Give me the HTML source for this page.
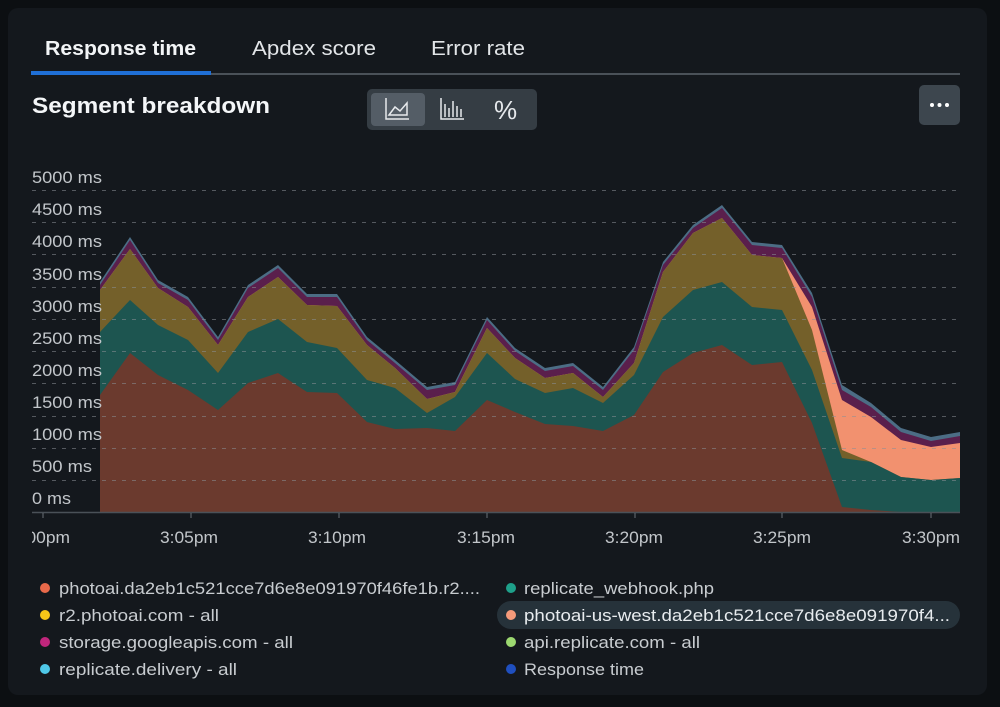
<!DOCTYPE html>
<html><head><meta charset="utf-8"><style>
html,body{margin:0;padding:0;background:#0c0f12;width:1000px;height:707px;overflow:hidden}
svg{display:block}
text{font-family:"Liberation Sans",sans-serif}
</style></head><body>
<svg width="1000" height="707" viewBox="0 0 1000 707" xmlns="http://www.w3.org/2000/svg">
<rect x="0" y="0" width="1000" height="707" fill="#0c0f12"/>
<rect x="8" y="8" width="979" height="687" rx="10" fill="#14181d"/>
<!-- tabs -->
<text x="45" y="55" font-size="20" font-weight="bold" fill="#f2f4f6" textLength="151" lengthAdjust="spacingAndGlyphs">Response time</text>
<text x="252" y="55" font-size="20" fill="#e2e5e8" textLength="124" lengthAdjust="spacingAndGlyphs">Apdex score</text>
<text x="431" y="55" font-size="20" fill="#e2e5e8" textLength="94" lengthAdjust="spacingAndGlyphs">Error rate</text>
<rect x="31" y="73" width="929" height="2" fill="#4a5158"/>
<rect x="31" y="71" width="180" height="4" fill="#1f6fd6"/>
<text x="32" y="113" font-size="22" font-weight="bold" fill="#f4f6f8" textLength="238" lengthAdjust="spacingAndGlyphs">Segment breakdown</text>
<!-- toggle group -->
<rect x="367" y="89" width="170" height="41" rx="5" fill="#353d44"/>
<rect x="371" y="93" width="54" height="33" rx="4" fill="#545d66"/>
<g stroke="#e6e9ec" stroke-width="1.5" fill="none">
<path d="M386 98 V119 H409"/><path d="M389 115 L395 107 L400 111 L407 103 V115 Z"/>
<path d="M441 98 V119 H464"/><path d="M445 104 V117 M449 108 V117 M453 101 V117 M457 106 V117 M461 109 V117"/>
</g>
<text x="494" y="119" font-size="26" fill="#e6e9ec">%</text>
<rect x="919" y="85" width="41" height="40" rx="5" fill="#3d464e"/>
<circle cx="932" cy="105" r="2" fill="#fff"/><circle cx="939.5" cy="105" r="2" fill="#fff"/><circle cx="947" cy="105" r="2" fill="#fff"/>
<!-- areas -->
<g>
<polygon fill="#4c6d85" points="100,282 130,237 158,280 188,297 218,337 248,285 278,265 307,294 337,294 367,337 395,360 427,387 455,382 487,317 515,348 545,368 573,363 603,387 634,347 663,262 693,225 722,205 752,242 782,245 812,293 842,385 871,403 901,428 931,437 960,432 960,512 100,512"/>
<polygon fill="#5a1f4c" points="100,285 130,240 158,283 188,300 218,340 248,288 278,268 307,297 337,297 367,340 395,363 427,390 455,385 487,320 515,351 545,371 573,366 603,390 634,350 663,265 693,228 722,208 752,245 782,248 812,297 842,390 871,407 901,432 931,441 960,436 960,512 100,512"/>
<polygon fill="#f2916f" points="100,290 130,249 158,288 188,307 218,345 248,297 278,277 307,305 337,306 367,345 395,368 427,399 455,392 487,328 515,358 545,378 573,373 603,397 634,363 663,272 693,233 722,218 752,255 782,258 812,307 842,400 871,417 901,440 931,447 960,443 960,512 100,512"/>
<polygon fill="#74602a" points="100,290 130,249 158,288 188,307 218,345 248,297 278,277 307,305 337,306 367,345 395,368 427,399 455,392 487,328 515,358 545,378 573,373 603,397 634,363 663,272 693,233 722,218 752,255 782,258 812,330 842,450 871,462 901,477 931,480 960,478 960,512 100,512"/>
<polygon fill="#1d5550" points="100,332 130,300 158,325 188,340 218,373 248,332 278,319 307,342 337,348 367,380 395,388 427,413 455,397 487,353 515,379 545,393 573,388 603,403 634,375 663,317 693,290 722,282 752,307 782,310 812,370 842,458 871,462 901,477 931,480 960,478 960,512 100,512"/>
<polygon fill="#6b3a2e" points="100,395 130,353 158,375 188,390 218,410 248,383 278,373 307,392 337,393 367,422 395,429 427,428 455,431 487,400 515,412 545,424 573,426 603,431 634,415 663,372 693,353 722,345 752,365 782,362 812,423 842,507 871,510 901,512 931,512 960,512 960,512 100,512"/>
</g>
<!-- grid -->
<g stroke="#8a9096" stroke-opacity="0.55" stroke-width="1" stroke-dasharray="4 6">
<line x1="32" y1="190.5" x2="960" y2="190.5"/>
<line x1="32" y1="222.5" x2="960" y2="222.5"/>
<line x1="32" y1="254.5" x2="960" y2="254.5"/>
<line x1="32" y1="287.5" x2="960" y2="287.5"/>
<line x1="32" y1="319.5" x2="960" y2="319.5"/>
<line x1="32" y1="351.5" x2="960" y2="351.5"/>
<line x1="32" y1="383.5" x2="960" y2="383.5"/>
<line x1="32" y1="416.5" x2="960" y2="416.5"/>
<line x1="32" y1="448.5" x2="960" y2="448.5"/>
<line x1="32" y1="480.5" x2="960" y2="480.5"/>
</g>
<line x1="32" y1="512.5" x2="960" y2="512.5" stroke="#4a5158" stroke-width="1.5"/>
<g stroke="#6a7178" stroke-width="1">
<line x1="43" y1="513" x2="43" y2="518"/><line x1="191" y1="513" x2="191" y2="518"/><line x1="339" y1="513" x2="339" y2="518"/><line x1="487" y1="513" x2="487" y2="518"/><line x1="635" y1="513" x2="635" y2="518"/><line x1="782" y1="513" x2="782" y2="518"/><line x1="931" y1="513" x2="931" y2="518"/>
</g>
<!-- y labels -->
<g font-size="17" fill="#c2c6ca">
<text x="32" y="183" textLength="70" lengthAdjust="spacingAndGlyphs">5000 ms</text>
<text x="32" y="215" textLength="70" lengthAdjust="spacingAndGlyphs">4500 ms</text>
<text x="32" y="247" textLength="70" lengthAdjust="spacingAndGlyphs">4000 ms</text>
<text x="32" y="280" textLength="70" lengthAdjust="spacingAndGlyphs">3500 ms</text>
<text x="32" y="312" textLength="70" lengthAdjust="spacingAndGlyphs">3000 ms</text>
<text x="32" y="344" textLength="70" lengthAdjust="spacingAndGlyphs">2500 ms</text>
<text x="32" y="376" textLength="70" lengthAdjust="spacingAndGlyphs">2000 ms</text>
<text x="32" y="408" textLength="70" lengthAdjust="spacingAndGlyphs">1500 ms</text>
<text x="32" y="440" textLength="70" lengthAdjust="spacingAndGlyphs">1000 ms</text>
<text x="32" y="472" textLength="60" lengthAdjust="spacingAndGlyphs">500 ms</text>
<text x="32" y="504" textLength="39" lengthAdjust="spacingAndGlyphs">0 ms</text>
</g>
<!-- x labels -->
<clipPath id="c"><rect x="32" y="520" width="940" height="30"/></clipPath>
<g font-size="17" fill="#c2c6ca" clip-path="url(#c)">
<text x="12" y="543" textLength="58" lengthAdjust="spacingAndGlyphs">3:00pm</text>
<text x="160" y="543" textLength="58" lengthAdjust="spacingAndGlyphs">3:05pm</text>
<text x="308" y="543" textLength="58" lengthAdjust="spacingAndGlyphs">3:10pm</text>
<text x="457" y="543" textLength="58" lengthAdjust="spacingAndGlyphs">3:15pm</text>
<text x="605" y="543" textLength="58" lengthAdjust="spacingAndGlyphs">3:20pm</text>
<text x="753" y="543" textLength="58" lengthAdjust="spacingAndGlyphs">3:25pm</text>
<text x="902" y="543" textLength="58" lengthAdjust="spacingAndGlyphs">3:30pm</text>
</g>
<!-- legend -->
<rect x="497" y="601" width="463" height="28" rx="14" fill="#26323a"/>
<g font-size="17" fill="#c8ccd0" lengthAdjust="spacingAndGlyphs">
<circle cx="45" cy="588" r="5" fill="#e8694a"/><text x="59" y="594" textLength="421" lengthAdjust="spacingAndGlyphs">photoai.da2eb1c521cce7d6e8e091970f46fe1b.r2....</text>
<circle cx="45" cy="615" r="5" fill="#f5c518"/><text x="59" y="621" textLength="160" lengthAdjust="spacingAndGlyphs">r2.photoai.com - all</text>
<circle cx="45" cy="642" r="5" fill="#c0267c"/><text x="59" y="648" textLength="234" lengthAdjust="spacingAndGlyphs">storage.googleapis.com - all</text>
<circle cx="45" cy="669" r="5" fill="#4fc8e8"/><text x="59" y="675" textLength="178" lengthAdjust="spacingAndGlyphs">replicate.delivery - all</text>
<circle cx="511" cy="588" r="5" fill="#1ea08a"/><text x="524" y="594" textLength="190" lengthAdjust="spacingAndGlyphs">replicate_webhook.php</text>
<circle cx="511" cy="615" r="5" fill="#f59a7a"/><text x="524" y="621" fill="#e8ecef" textLength="426" lengthAdjust="spacingAndGlyphs">photoai-us-west.da2eb1c521cce7d6e8e091970f4...</text>
<circle cx="511" cy="642" r="5" fill="#9cd870"/><text x="524" y="648" textLength="176" lengthAdjust="spacingAndGlyphs">api.replicate.com - all</text>
<circle cx="511" cy="669" r="5" fill="#1f4fbf"/><text x="524" y="675" textLength="120" lengthAdjust="spacingAndGlyphs">Response time</text>
</g>
</svg>
</body></html>
